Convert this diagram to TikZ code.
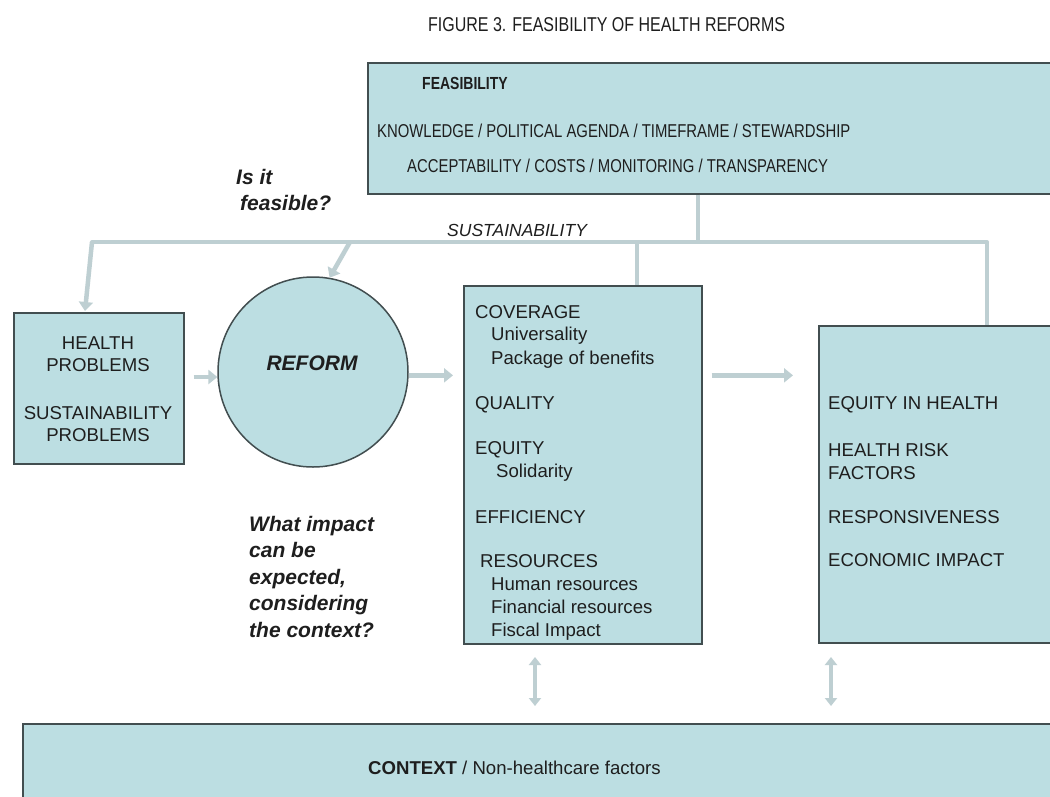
\documentclass[tikz,border=0pt]{standalone}
\usepackage{fontspec}
\setmainfont{Liberation Sans}
\newfontfamily\narrowf[FakeStretch=0.8]{Liberation Sans}
\usetikzlibrary{arrows.meta}
\definecolor{boxfill}{RGB}{188,222,226}
\definecolor{boxline}{RGB}{66,78,80}
\definecolor{conn}{RGB}{190,207,210}
\definecolor{ink}{RGB}{30,30,30}
\begin{document}
\begin{tikzpicture}[x=1pt,y=-1pt,
  box/.style={draw=boxline, line width=1.5pt, fill=boxfill, inner sep=0pt, anchor=north west},
  feed/.style={draw=conn, line width=4pt},
  arr/.style={draw=conn, line width=4.5pt, -{Triangle[length=9pt,width=14pt]}},
  darr/.style={draw=conn, line width=3.5pt, {Triangle[length=8pt,width=12pt]}-{Triangle[length=8pt,width=12pt]}},
  txt/.style={inner sep=0pt, text=ink, font=\fontsize{18.6}{22}\selectfont},
  narrowtxt/.style={inner sep=0pt, text=ink, font=\narrowf\fontsize{18.6}{21}\selectfont},
  question/.style={inner sep=0pt, text=ink, font=\bfseries\itshape\fontsize{21}{26.5}\selectfont},
]
\clip (0,0) rectangle (1050,796);
\fill[white] (0,0) rectangle (1050,796);

% title
\node[inner sep=0pt, text=ink, font=\narrowf\fontsize{20}{22}\selectfont, anchor=base west] (title) at (428,31.5) {FIGURE 3. FEASIBILITY OF HEALTH REFORMS};

% boxes
\node[box, minimum width=700pt, minimum height=131pt] (feas) at (367,62) {};
\node[box, minimum width=170pt, minimum height=151pt] (hp) at (13,312) {};
\node[draw=boxline, line width=1.5pt, fill=boxfill, circle, minimum size=190pt, inner sep=0pt] (ref) at (313,372) {};
\node[box, minimum width=238pt, minimum height=358pt] (mid) at (463,285) {};
\node[box, minimum width=250pt, minimum height=317pt] (res) at (818,325) {};
\node[box, minimum width=1050pt, minimum height=100pt] (ctx) at (22,723) {};

% feasibility text
\node[narrowtxt, font=\narrowf\bfseries\fontsize{17.5}{20}\selectfont, anchor=base west] (feast) at (422,89.5) {FEASIBILITY};
\node[narrowtxt, anchor=base west] (feas1) at (377,137) {KNOWLEDGE / POLITICAL AGENDA / TIMEFRAME / STEWARDSHIP};
\node[narrowtxt, anchor=base west] (feas2) at (407,172) {ACCEPTABILITY / COSTS / MONITORING / TRANSPARENCY};

% questions
\node[question, anchor=base west] (q1a) at (236,184) {Is it};
\node[question, anchor=base west] (q1b) at (240,210.5) {feasible?};
\foreach \yy/\lbl [count=\i] in {531/What impact, 557.5/can be, 584/expected{,}, 610.5/considering, 637/the context?}
  \node[question, anchor=base west] (q2\i) at (249,\yy) {\lbl};

\node[inner sep=0pt, text=ink, font=\itshape\fontsize{17.5}{21}\selectfont, anchor=base west] (sust) at (447,236.5) {SUSTAINABILITY};

% left box text
\foreach \yy/\lbl [count=\i] in {349.7/HEALTH, 371.7/PROBLEMS, 419.7/SUSTAINABILITY, 441.7/PROBLEMS}
  \node[txt, anchor=base] (hpt\i) at (98,\yy) {\lbl};

% reform
\node[inner sep=0pt, text=ink, font=\bfseries\itshape\fontsize{21}{25}\selectfont, anchor=base] (reft) at (312,370.5) {REFORM};

% middle box text
\foreach \xx/\yy/\lbl [count=\i] in {475/318.7/COVERAGE, 491/340.7/Universality, 491/364.7/Package of benefits, 475/409.7/QUALITY, 475/454.7/EQUITY, 496/477.7/Solidarity, 475/523.7/EFFICIENCY, 480/567.7/RESOURCES, 491/590.7/Human resources, 491/613.7/Financial resources, 491/636.7/Fiscal Impact}
  \node[txt, anchor=base west] (mt\i) at (\xx,\yy) {\lbl};

% right box text
\foreach \yy/\lbl [count=\i] in {409.7/EQUITY IN HEALTH, 456.7/HEALTH RISK, 479.7/FACTORS, 523.7/RESPONSIVENESS, 566/ECONOMIC IMPACT}
  \node[txt, anchor=base west] (rt\i) at (828,\yy) {\lbl};

% context text
\node[txt, anchor=base west] (ctxt) at (368,774) {\textbf{CONTEXT} / Non-healthcare factors};

% feedback connectors
\coordinate (jt) at (698,242);
\coordinate (jl) at (92,242);
\coordinate (jr) at (987,242);
\coordinate (jm) at (637,242);
\coordinate (jc) at (350,242);
\coordinate (hptop) at (85,311);
\draw[feed] (jt |- feas.south) -- (jt);
\draw[feed, line cap=round] (jl) -- (jr);
\draw[feed] (jr) -- (jr |- res.north);
\draw[feed] (jm) -- (jm |- mid.north);
\draw[arr] (jl) -- (hptop);
\draw[arr] (jc) -- (ref.80);

% flow arrows
\draw[arr, shorten <=9pt] (hp.east |- ref.183) -- (ref.183);
\draw[arr, shorten >=10pt] (ref.-2) -- (ref.-2 -| mid.west);
\draw[arr, shorten <=9pt, shorten >=25pt] (mid.east |- ref.-2) -- (res.west |- ref.-2);

% context arrows
\coordinate (d1t) at (535,657);
\coordinate (d1b) at (535,706);
\coordinate (d2t) at (831,657);
\coordinate (d2b) at (831,706);
\draw[darr] (d1t) -- (d1b);
\draw[darr] (d2t) -- (d2b);
\end{tikzpicture}
\end{document}
